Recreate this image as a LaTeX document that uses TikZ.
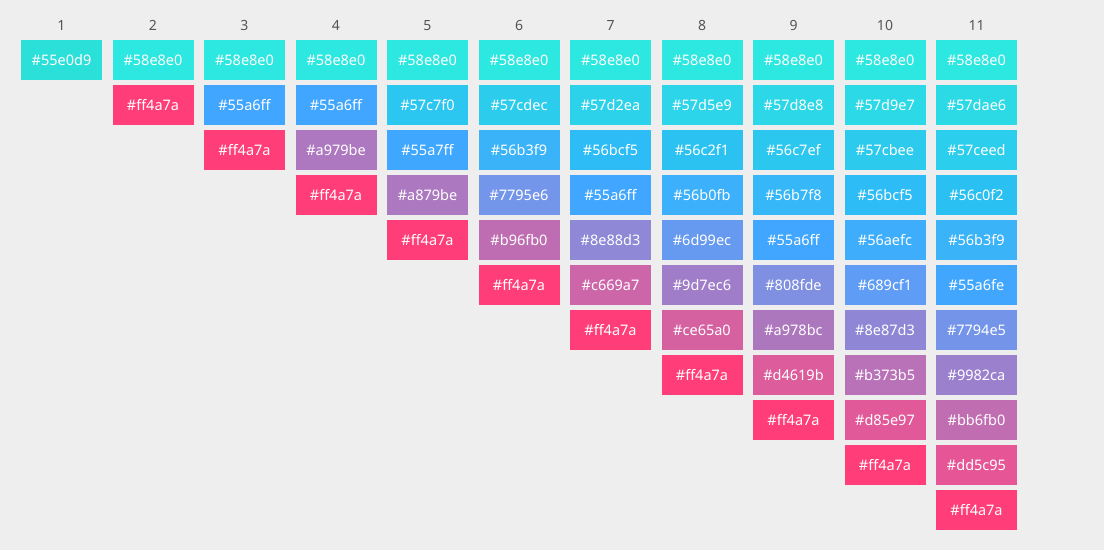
\documentclass[tikz,border=0pt]{standalone}
\usepackage{fontspec}
\setmainfont{Noto Sans}
\usepackage{tikz}
\usepackage{xcolor}
\usetikzlibrary{positioning}
\definecolor{pagebg}{HTML}{EEEEEE}
\definecolor{numgray}{HTML}{555555}
\definecolor{c55e0d9}{HTML}{2BE0D9}
\definecolor{c58e8e0}{HTML}{2CE8E0}
\definecolor{cff4a7a}{HTML}{FF3D79}
\definecolor{c55a6ff}{HTML}{41A6FF}
\definecolor{ca979be}{HTML}{AD78C0}
\definecolor{c57c7f0}{HTML}{2CC7F0}
\definecolor{c55a7ff}{HTML}{40A7FF}
\definecolor{ca879be}{HTML}{AC78C0}
\definecolor{c57cdec}{HTML}{2CCDEC}
\definecolor{c56b3f9}{HTML}{3AB3F9}
\definecolor{c7795e6}{HTML}{7395EA}
\definecolor{cb96fb0}{HTML}{BF6DB2}
\definecolor{c57d2ea}{HTML}{2CD2EA}
\definecolor{c56bcf5}{HTML}{2DBCF5}
\definecolor{c8e88d3}{HTML}{8F88D6}
\definecolor{cc669a7}{HTML}{CD66A9}
\definecolor{c57d5e9}{HTML}{2CD5E9}
\definecolor{c56c2f1}{HTML}{2BC2F1}
\definecolor{c56b0fb}{HTML}{3CB0FB}
\definecolor{c6d99ec}{HTML}{6699F0}
\definecolor{c9d7ec6}{HTML}{A07DC8}
\definecolor{cce65a0}{HTML}{D661A1}
\definecolor{c57d8e8}{HTML}{2CD8E8}
\definecolor{c56c7ef}{HTML}{2BC7EF}
\definecolor{c56b7f8}{HTML}{36B7F8}
\definecolor{c808fde}{HTML}{7F8FE1}
\definecolor{ca978bc}{HTML}{AD77BE}
\definecolor{cd4619b}{HTML}{DC5C9C}
\definecolor{c57d9e7}{HTML}{2CD9E7}
\definecolor{c57cbee}{HTML}{2CCBEE}
\definecolor{c56aefc}{HTML}{3EAEFC}
\definecolor{c689cf1}{HTML}{5F9CF5}
\definecolor{c8e87d3}{HTML}{8F87D6}
\definecolor{cb373b5}{HTML}{B971B7}
\definecolor{cd85e97}{HTML}{E15998}
\definecolor{c57dae6}{HTML}{2CDAE6}
\definecolor{c57ceed}{HTML}{2CCEED}
\definecolor{c56c0f2}{HTML}{2BC0F2}
\definecolor{c55a6fe}{HTML}{41A6FE}
\definecolor{c7794e5}{HTML}{7394E9}
\definecolor{c9982ca}{HTML}{9B81CD}
\definecolor{cbb6fb0}{HTML}{C16DB2}
\definecolor{cdd5c95}{HTML}{E65696}
\tikzstyle{swatch} = [rectangle, minimum width=81pt, minimum height=40pt, inner sep=0pt, text centered, text=white, font=\fontsize{14.5}{17}\selectfont]
\tikzstyle{colnum} = [text=numgray, font=\fontsize{14}{17}\selectfont]

\begin{document}
\begin{tikzpicture}[node distance=45pt]
        \fill[pagebg] (0,0) rectangle (1104pt,550pt);
        \useasboundingbox (0,0) rectangle (1104pt,550pt);

        % column 1
        \node (c1r1) [swatch, fill=c55e0d9] at (61.5pt,490pt) {\#55e0d9};
        \node (n1) [colnum, above of=c1r1, yshift=-10.5pt] {1};

        % column 2
        \node (c2r1) [swatch, fill=c58e8e0, right of=c1r1, xshift=46.5pt] {\#58e8e0};
        \node (c2r2) [swatch, fill=cff4a7a, below of=c2r1] {\#ff4a7a};
        \node (n2) [colnum, above of=c2r1, yshift=-10.5pt] {2};

        % column 3
        \node (c3r1) [swatch, fill=c58e8e0, right of=c2r1, xshift=46.5pt] {\#58e8e0};
        \node (c3r2) [swatch, fill=c55a6ff, below of=c3r1] {\#55a6ff};
        \node (c3r3) [swatch, fill=cff4a7a, below of=c3r2] {\#ff4a7a};
        \node (n3) [colnum, above of=c3r1, yshift=-10.5pt] {3};

        % column 4
        \node (c4r1) [swatch, fill=c58e8e0, right of=c3r1, xshift=46.5pt] {\#58e8e0};
        \node (c4r2) [swatch, fill=c55a6ff, below of=c4r1] {\#55a6ff};
        \node (c4r3) [swatch, fill=ca979be, below of=c4r2] {\#a979be};
        \node (c4r4) [swatch, fill=cff4a7a, below of=c4r3] {\#ff4a7a};
        \node (n4) [colnum, above of=c4r1, yshift=-10.5pt] {4};

        % column 5
        \node (c5r1) [swatch, fill=c58e8e0, right of=c4r1, xshift=46.5pt] {\#58e8e0};
        \node (c5r2) [swatch, fill=c57c7f0, below of=c5r1] {\#57c7f0};
        \node (c5r3) [swatch, fill=c55a7ff, below of=c5r2] {\#55a7ff};
        \node (c5r4) [swatch, fill=ca879be, below of=c5r3] {\#a879be};
        \node (c5r5) [swatch, fill=cff4a7a, below of=c5r4] {\#ff4a7a};
        \node (n5) [colnum, above of=c5r1, yshift=-10.5pt] {5};

        % column 6
        \node (c6r1) [swatch, fill=c58e8e0, right of=c5r1, xshift=46.5pt] {\#58e8e0};
        \node (c6r2) [swatch, fill=c57cdec, below of=c6r1] {\#57cdec};
        \node (c6r3) [swatch, fill=c56b3f9, below of=c6r2] {\#56b3f9};
        \node (c6r4) [swatch, fill=c7795e6, below of=c6r3] {\#7795e6};
        \node (c6r5) [swatch, fill=cb96fb0, below of=c6r4] {\#b96fb0};
        \node (c6r6) [swatch, fill=cff4a7a, below of=c6r5] {\#ff4a7a};
        \node (n6) [colnum, above of=c6r1, yshift=-10.5pt] {6};

        % column 7
        \node (c7r1) [swatch, fill=c58e8e0, right of=c6r1, xshift=46.5pt] {\#58e8e0};
        \node (c7r2) [swatch, fill=c57d2ea, below of=c7r1] {\#57d2ea};
        \node (c7r3) [swatch, fill=c56bcf5, below of=c7r2] {\#56bcf5};
        \node (c7r4) [swatch, fill=c55a6ff, below of=c7r3] {\#55a6ff};
        \node (c7r5) [swatch, fill=c8e88d3, below of=c7r4] {\#8e88d3};
        \node (c7r6) [swatch, fill=cc669a7, below of=c7r5] {\#c669a7};
        \node (c7r7) [swatch, fill=cff4a7a, below of=c7r6] {\#ff4a7a};
        \node (n7) [colnum, above of=c7r1, yshift=-10.5pt] {7};

        % column 8
        \node (c8r1) [swatch, fill=c58e8e0, right of=c7r1, xshift=46.5pt] {\#58e8e0};
        \node (c8r2) [swatch, fill=c57d5e9, below of=c8r1] {\#57d5e9};
        \node (c8r3) [swatch, fill=c56c2f1, below of=c8r2] {\#56c2f1};
        \node (c8r4) [swatch, fill=c56b0fb, below of=c8r3] {\#56b0fb};
        \node (c8r5) [swatch, fill=c6d99ec, below of=c8r4] {\#6d99ec};
        \node (c8r6) [swatch, fill=c9d7ec6, below of=c8r5] {\#9d7ec6};
        \node (c8r7) [swatch, fill=cce65a0, below of=c8r6] {\#ce65a0};
        \node (c8r8) [swatch, fill=cff4a7a, below of=c8r7] {\#ff4a7a};
        \node (n8) [colnum, above of=c8r1, yshift=-10.5pt] {8};

        % column 9
        \node (c9r1) [swatch, fill=c58e8e0, right of=c8r1, xshift=46.5pt] {\#58e8e0};
        \node (c9r2) [swatch, fill=c57d8e8, below of=c9r1] {\#57d8e8};
        \node (c9r3) [swatch, fill=c56c7ef, below of=c9r2] {\#56c7ef};
        \node (c9r4) [swatch, fill=c56b7f8, below of=c9r3] {\#56b7f8};
        \node (c9r5) [swatch, fill=c55a6ff, below of=c9r4] {\#55a6ff};
        \node (c9r6) [swatch, fill=c808fde, below of=c9r5] {\#808fde};
        \node (c9r7) [swatch, fill=ca978bc, below of=c9r6] {\#a978bc};
        \node (c9r8) [swatch, fill=cd4619b, below of=c9r7] {\#d4619b};
        \node (c9r9) [swatch, fill=cff4a7a, below of=c9r8] {\#ff4a7a};
        \node (n9) [colnum, above of=c9r1, yshift=-10.5pt] {9};

        % column 10
        \node (c10r1) [swatch, fill=c58e8e0, right of=c9r1, xshift=46.5pt] {\#58e8e0};
        \node (c10r2) [swatch, fill=c57d9e7, below of=c10r1] {\#57d9e7};
        \node (c10r3) [swatch, fill=c57cbee, below of=c10r2] {\#57cbee};
        \node (c10r4) [swatch, fill=c56bcf5, below of=c10r3] {\#56bcf5};
        \node (c10r5) [swatch, fill=c56aefc, below of=c10r4] {\#56aefc};
        \node (c10r6) [swatch, fill=c689cf1, below of=c10r5] {\#689cf1};
        \node (c10r7) [swatch, fill=c8e87d3, below of=c10r6] {\#8e87d3};
        \node (c10r8) [swatch, fill=cb373b5, below of=c10r7] {\#b373b5};
        \node (c10r9) [swatch, fill=cd85e97, below of=c10r8] {\#d85e97};
        \node (c10r10) [swatch, fill=cff4a7a, below of=c10r9] {\#ff4a7a};
        \node (n10) [colnum, above of=c10r1, yshift=-10.5pt] {10};

        % column 11
        \node (c11r1) [swatch, fill=c58e8e0, right of=c10r1, xshift=46.5pt] {\#58e8e0};
        \node (c11r2) [swatch, fill=c57dae6, below of=c11r1] {\#57dae6};
        \node (c11r3) [swatch, fill=c57ceed, below of=c11r2] {\#57ceed};
        \node (c11r4) [swatch, fill=c56c0f2, below of=c11r3] {\#56c0f2};
        \node (c11r5) [swatch, fill=c56b3f9, below of=c11r4] {\#56b3f9};
        \node (c11r6) [swatch, fill=c55a6fe, below of=c11r5] {\#55a6fe};
        \node (c11r7) [swatch, fill=c7794e5, below of=c11r6] {\#7794e5};
        \node (c11r8) [swatch, fill=c9982ca, below of=c11r7] {\#9982ca};
        \node (c11r9) [swatch, fill=cbb6fb0, below of=c11r8] {\#bb6fb0};
        \node (c11r10) [swatch, fill=cdd5c95, below of=c11r9] {\#dd5c95};
        \node (c11r11) [swatch, fill=cff4a7a, below of=c11r10] {\#ff4a7a};
        \node (n11) [colnum, above of=c11r1, yshift=-10.5pt] {11};
    \end{tikzpicture}
\end{document}
